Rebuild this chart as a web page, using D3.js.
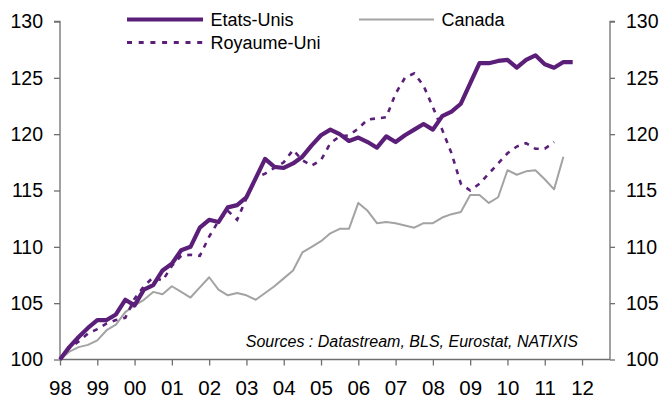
<!DOCTYPE html>
<html>
<head>
<meta charset="utf-8">
<script src="https://cdn.jsdelivr.net/npm/d3@7"></script>
<style>
  html, body { margin: 0; padding: 0; background: #fff; }
  svg { display: block; font-family: "Liberation Sans", Arial, sans-serif; }
</style>
</head>
<body>
<svg id="chart" width="664" height="401"></svg>
<script>
// Quarterly categories, 1998Q1 onward
const quarters = [
  "1998Q1","1998Q2","1998Q3","1998Q4","1999Q1","1999Q2","1999Q3","1999Q4",
  "2000Q1","2000Q2","2000Q3","2000Q4","2001Q1","2001Q2","2001Q3","2001Q4",
  "2002Q1","2002Q2","2002Q3","2002Q4","2003Q1","2003Q2","2003Q3","2003Q4",
  "2004Q1","2004Q2","2004Q3","2004Q4","2005Q1","2005Q2","2005Q3","2005Q4",
  "2006Q1","2006Q2","2006Q3","2006Q4","2007Q1","2007Q2","2007Q3","2007Q4",
  "2008Q1","2008Q2","2008Q3","2008Q4","2009Q1","2009Q2","2009Q3","2009Q4",
  "2010Q1","2010Q2","2010Q3","2010Q4","2011Q1","2011Q2","2011Q3","2011Q4"
];

const etatsUnis = [
  100.0,101.1,102.0,102.8,103.5,103.5,104.0,105.3,
  104.8,106.2,106.6,107.9,108.5,109.7,110.0,111.7,
  112.4,112.2,113.5,113.7,114.4,116.1,117.8,117.1,
  117.0,117.4,118.0,119.0,119.9,120.4,120.0,119.4,
  119.7,119.3,118.8,119.8,119.3,119.9,120.4,120.9,
  120.4,121.6,122.0,122.7,124.5,126.3,126.3,126.5,
  126.6,125.9,126.6,127.0,126.2,125.9,126.4,126.4
];

const royaumeUni = [
  100.0,101.0,101.6,102.3,102.7,103.2,103.5,103.7,
  105.4,106.5,107.3,107.0,108.3,109.2,109.3,109.2,
  110.9,112.3,113.2,112.4,114.3,116.1,116.5,117.0,
  117.5,118.6,117.7,117.2,117.7,119.2,119.8,119.9,
  120.5,121.3,121.4,121.5,123.6,125.0,125.4,124.3,
  122.4,120.4,118.3,115.6,115.0,115.6,116.5,117.4,
  118.3,118.9,119.2,118.7,118.7,119.3
];

const canada = [
  100.0,100.7,101.1,101.3,101.7,102.6,103.1,104.2,
  104.8,105.3,106.0,105.8,106.5,106.0,105.5,106.4,
  107.3,106.2,105.7,105.9,105.7,105.3,105.9,106.5,
  107.2,107.9,109.5,110.0,110.5,111.2,111.6,111.6,
  113.9,113.2,112.1,112.2,112.1,111.9,111.7,112.1,
  112.1,112.6,112.9,113.1,114.6,114.6,113.9,114.4,
  116.8,116.4,116.7,116.8,116.0,115.1,118.0
];

const yearTicks = [1998,1999,2000,2001,2002,2003,2004,2005,2006,2007,2008,2009,2010,2011,2012];
const yearLabels = ["98","99","00","01","02","03","04","05","06","07","08","09","10","11","12"];
const yTicks = [100,105,110,115,120,125,130];
const sourceText = "Sources : Datastream, BLS, Eurostat, NATIXIS";

const PURPLE = "#5b1f79";
const GREY = "#a3a3a3";
const AXIS = "#6f6f6f";

const svg = d3.select("#chart");
const pLeft = 60, pRight = 610, pTop = 21.5, pBottom = 359.5;

const qToYear = q => +q.slice(0,4) + (+q.slice(5) - 1) / 4;

const x = d3.scaleLinear().domain([1998, 2012.75]).range([pLeft, pRight]);
const y = d3.scaleLinear().domain([100, 130]).range([pBottom, pTop]);

const line = d3.line()
  .x((d, i) => x(qToYear(quarters[i])))
  .y(d => y(d))
  .curve(d3.curveLinear);

// Axes
const yLeft = d3.axisLeft(y).tickValues(yTicks).tickSize(6).tickPadding(11).tickFormat(d3.format("d"));
const yRight = d3.axisRight(y).tickValues(yTicks).tickSize(5).tickPadding(11).tickFormat(d3.format("d"));
const xAxis = d3.axisBottom(x).tickValues(yearTicks).tickSize(6).tickPadding(15)
  .tickFormat((d, i) => yearLabels[i]);

function styleAxis(g, size) {
  g.select(".domain").attr("stroke", AXIS).attr("stroke-width", 1.3);
  g.selectAll(".tick line").attr("stroke", AXIS).attr("stroke-width", 1.3);
  g.selectAll("text").attr("fill", "#000").style("font-size", size)
    .style("font-family", "'Liberation Sans', Arial, sans-serif");
}

svg.append("g").attr("transform", `translate(${pLeft},0)`).call(yLeft).call(styleAxis, "19.5px")
  .call(g => g.select(".domain").attr("d", `M-6,${pTop}H0V${pBottom}`));
svg.append("g").attr("transform", `translate(${pRight},0)`).call(yRight).call(styleAxis, "19.5px")
  .call(g => g.select(".domain").attr("d", `M5,${pTop}H0V${pBottom}`));
svg.append("g").attr("transform", `translate(0,${pBottom})`).call(xAxis).call(styleAxis, "20.5px")
  .call(g => g.select(".domain").attr("d", `M${pLeft},0H${pRight}`))
  .call(g => g.selectAll(".tick text").attr("dy", "0.71em"));

// Series
svg.append("path").datum(canada)
  .attr("d", line).attr("fill", "none")
  .attr("stroke", GREY).attr("stroke-width", 2).attr("stroke-linejoin", "round");

svg.append("path").datum(royaumeUni)
  .attr("d", line).attr("fill", "none")
  .attr("stroke", PURPLE).attr("stroke-width", 2.6)
  .attr("stroke-dasharray", "5,6");

svg.append("path").datum(etatsUnis)
  .attr("d", line).attr("fill", "none")
  .attr("stroke", PURPLE).attr("stroke-width", 4.2).attr("stroke-linejoin", "round");

// Legend
const legend = [
  {name: "Etats-Unis", x1: 127, x2: 203, y: 19.5, color: PURPLE, w: 4.2, dash: null},
  {name: "Royaume-Uni", x1: 127, x2: 203, y: 42.5, color: PURPLE, w: 3, dash: "5,6.7"},
  {name: "Canada", x1: 359, x2: 434, y: 19.5, color: GREY, w: 2, dash: null}
];
legend.forEach(l => {
  svg.append("line").attr("x1", l.x1).attr("x2", l.x2).attr("y1", l.y).attr("y2", l.y)
    .attr("stroke", l.color).attr("stroke-width", l.w)
    .attr("stroke-dasharray", l.dash);
  svg.append("text").attr("x", l.x2 + 7.5).attr("y", l.y + 6)
    .style("font-size", "18px").attr("fill", "#000").text(l.name);
});

// Source note
svg.append("text").attr("x", 578).attr("y", 346.5).attr("text-anchor", "end")
  .style("font-size", "16px").style("font-style", "italic").attr("fill", "#000")
  .text(sourceText);
</script>
</body>
</html>
